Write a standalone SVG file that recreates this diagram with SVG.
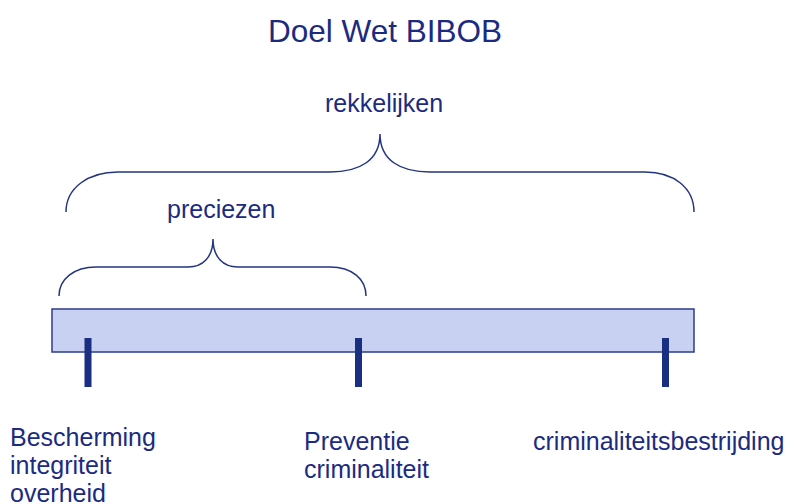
<svg xmlns="http://www.w3.org/2000/svg" width="786" height="504" viewBox="0 0 786 504">
<style>
.t{font-family:"Liberation Sans",Arial,sans-serif;fill:#1c2b80;font-size:25px}
.brace{fill:none;stroke:#24357f;stroke-width:1.5}
.tick{fill:#1b2f82}
</style>
<rect width="786" height="504" fill="#ffffff"/>
<text class="t" x="268" y="42" style="font-size:31.5px">Doel Wet BIBOB</text>
<g id="rekkelijken">
<path class="brace" d="M66,212 C66,188 88,172 118,172 L330,172 C360,172 380,160 380,134 C380,160 400,172 430,172 L645,172 C674,172 694,188 694,212"/>
<text class="t" x="325" y="112">rekkelijken</text>
</g>
<g id="preciezen">
<path class="brace" d="M59,296 C59,279 74,267 96,267 L188,267 C203,267 213,257 213,239 C213,257 223,267 238,267 L330,267 C352,267 366,279 366,296"/>
<text class="t" x="167" y="218">preciezen</text>
</g>
<g id="balk">
<rect x="52" y="309" width="642" height="43" fill="#c8d1f1" stroke="#2c3d8c" stroke-width="1.5"/>
</g>
<g id="ticks">
<rect class="tick" x="84.5" y="338" width="7" height="49"/>
<rect class="tick" x="355" y="338" width="7" height="49"/>
<rect class="tick" x="662" y="338" width="7" height="49"/>
</g>
<g id="label-bescherming">
<text class="t" x="10" y="446">Bescherming</text>
<text class="t" x="10" y="474">integriteit</text>
<text class="t" x="10" y="502">overheid</text>
</g>
<g id="label-preventie">
<text class="t" x="304" y="450">Preventie</text>
<text class="t" x="304" y="478">criminaliteit</text>
</g>
<g id="label-bestrijding">
<text class="t" x="533" y="450">criminaliteitsbestrijding</text>
</g>
</svg>
